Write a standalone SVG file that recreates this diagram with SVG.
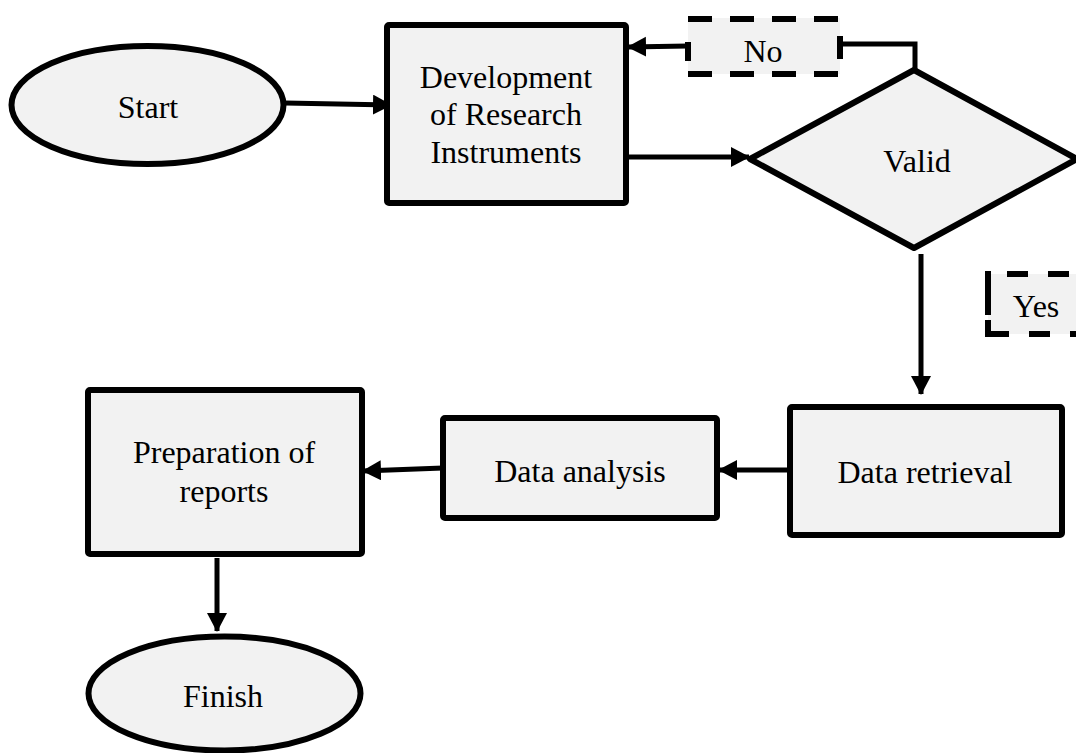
<svg xmlns="http://www.w3.org/2000/svg" width="1076" height="753" viewBox="0 0 1076 753">
  <style>
    .shape { fill: #f2f2f2; stroke: #000; stroke-width: 6; stroke-linejoin: round; }
    .label { font-family: "Liberation Serif", "Times New Roman", serif; font-size: 32px; fill: #000; text-anchor: middle; }
    .conn { fill: none; stroke: #000; stroke-width: 5; }
    .dash { stroke: #000; stroke-width: 6; }
    .pill { fill: #f2f2f2; stroke: none; }
  </style>
  <defs>
    <marker id="arrow" markerUnits="userSpaceOnUse" markerWidth="20" markerHeight="22" refX="18" refY="10" orient="auto">
      <path d="M0,0 L19,10 L0,20 Z" fill="#000"/>
    </marker>
  </defs>

  <rect width="1076" height="753" fill="#fff"/>

  <!-- connectors -->
  <g id="connectors">
    <line class="conn" x1="285" y1="103" x2="391" y2="105" marker-end="url(#arrow)"/>
    <line class="conn" x1="627" y1="157" x2="749" y2="157" marker-end="url(#arrow)"/>
    <polyline class="conn" points="840,44 915,44 915,71"/>
    <line class="conn" x1="688" y1="46" x2="628" y2="47" marker-end="url(#arrow)"/>
    <line class="conn" x1="921" y1="254" x2="921" y2="394" marker-end="url(#arrow)"/>
    <line class="conn" x1="790" y1="470" x2="719" y2="470" marker-end="url(#arrow)"/>
    <line class="conn" x1="443" y1="468" x2="363" y2="471" marker-end="url(#arrow)"/>
    <line class="conn" x1="217" y1="558" x2="217" y2="631" marker-end="url(#arrow)"/>
  </g>

  <!-- Start -->
  <g id="start">
    <ellipse class="shape" cx="147.5" cy="105" rx="136" ry="59"/>
    <text class="label" x="148" y="118">Start</text>
  </g>

  <!-- Development of Research Instruments -->
  <g id="development">
    <rect class="shape" x="387" y="25" width="239" height="178" rx="2"/>
    <text class="label" x="506" y="88">Development</text>
    <text class="label" x="506" y="125">of Research</text>
    <text class="label" x="506" y="163">Instruments</text>
  </g>

  <!-- No label -->
  <g id="no-label">
    <rect class="pill" x="688" y="18" width="152" height="56"/>
    <line class="dash" x1="688" y1="19" x2="840" y2="19" stroke-dasharray="24 18"/>
    <line class="dash" x1="688" y1="74" x2="840" y2="74" stroke-dasharray="24 18"/>
    <line class="dash" x1="688" y1="42" x2="688" y2="61"/>
    <line class="dash" x1="840" y1="36" x2="840" y2="59"/>
    <text class="label" x="763" y="62">No</text>
  </g>

  <!-- Valid decision -->
  <g id="valid">
    <polygon class="shape" points="914,70 1077,159 914,248 750,159"/>
    <text class="label" x="917" y="172">Valid</text>
  </g>

  <!-- Yes label -->
  <g id="yes-label">
    <rect class="pill" x="988" y="274" width="100" height="60"/>
    <line class="dash" x1="1007" y1="274" x2="1090" y2="274" stroke-dasharray="21 20"/>
    <line class="dash" x1="988" y1="334" x2="1090" y2="334" stroke-dasharray="21 20"/>
    <line class="dash" x1="988" y1="271" x2="988" y2="315"/>
    <line class="dash" x1="988" y1="320" x2="988" y2="337"/>
    <text class="label" x="1036" y="317">Yes</text>
  </g>

  <!-- Data retrieval -->
  <g id="data-retrieval">
    <rect class="shape" x="790" y="407" width="272" height="128" rx="2"/>
    <text class="label" x="925" y="483">Data retrieval</text>
  </g>

  <!-- Data analysis -->
  <g id="data-analysis">
    <rect class="shape" x="443" y="418" width="274" height="100" rx="2"/>
    <text class="label" x="580" y="482">Data analysis</text>
  </g>

  <!-- Preparation of reports -->
  <g id="preparation">
    <rect class="shape" x="88" y="390" width="274" height="164" rx="2"/>
    <text class="label" x="224" y="463">Preparation of</text>
    <text class="label" x="224" y="502">reports</text>
  </g>

  <!-- Finish -->
  <g id="finish">
    <ellipse class="shape" cx="224.5" cy="693.5" rx="136" ry="57"/>
    <text class="label" x="223" y="707">Finish</text>
  </g>
</svg>
